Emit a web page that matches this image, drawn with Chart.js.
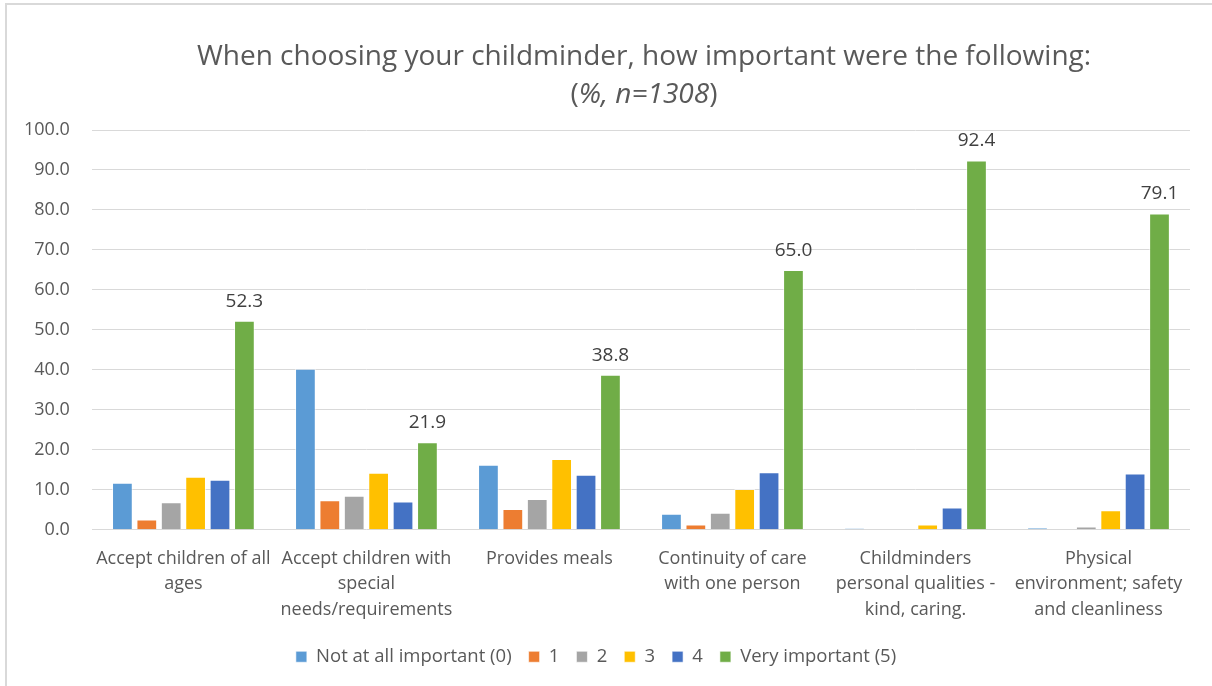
<!DOCTYPE html>
<html>
<head>
<meta charset="utf-8">
<script src="https://cdn.jsdelivr.net/npm/chart.js@4.4.1/dist/chart.umd.min.js"></script>
<style>
  html, body { margin: 0; padding: 0; background: #ffffff; overflow: hidden; }
  #wrap { position: relative; width: 1212px; height: 686px; }
  #frame { position: absolute; left: 5px; top: 3px; width: 1300px; height: 800px;
           border: 2px solid #d9d9d9; box-sizing: border-box; pointer-events: none; }
  canvas { position: absolute; left: 0; top: 0; }
</style>
</head>
<body>
<div id="wrap">
  <canvas id="chart" width="1212" height="686"></canvas>
  <div id="frame"></div>
</div>
<script>
// Survey items (x-axis categories), split into display lines
const categories = [
  ['Accept children of all', 'ages'],
  ['Accept children with', 'special', 'needs/requirements'],
  ['Provides meals'],
  ['Continuity of care', 'with one person'],
  ['Childminders', 'personal qualities -', 'kind, caring.'],
  ['Physical', 'environment; safety', 'and cleanliness']
];

// Rating scale series (percent of respondents)
const seriesNames = ['Not at all important (0)', '1', '2', '3', '4', 'Very important (5)'];
const notImportant0 = [11.8, 40.3, 16.3, 4.0, 0.4, 0.5];
const rating1       = [2.6, 7.4, 5.2, 1.3, 0.0, 0.0];
const rating2       = [6.9, 8.5, 7.7, 4.3, 0.0, 0.8];
const rating3       = [13.3, 14.3, 17.7, 10.2, 1.3, 4.9];
const rating4       = [12.5, 7.1, 13.8, 14.4, 5.6, 14.1];
const veryImportant5 = [52.3, 21.9, 38.8, 65.0, 92.4, 79.1];

const yTicks = [0, 10, 20, 30, 40, 50, 60, 70, 80, 90, 100];

const colors = ['#5B9BD5', '#ED7D31', '#A5A5A5', '#FFC000', '#4472C4', '#70AD47'];
const seriesValues = [notImportant0, rating1, rating2, rating3, rating4, veryImportant5];

const FONT = '"Open Sans", sans-serif';
const TEXT = '#595959';

// Two-line heading; second line mixes upright brackets with italic text
const headingPlugin = {
  id: 'heading',
  afterDraw(chart) {
    const ctx = chart.ctx;
    const cx = 644;
    ctx.save();
    ctx.fillStyle = TEXT;
    ctx.textBaseline = 'alphabetic';
    ctx.textAlign = 'center';
    ctx.font = '28px ' + FONT;
    ctx.fillText('When choosing your childminder, how important were the following:', cx, 65);

    const parts = [
      { t: '(', f: '28px ' + FONT },
      { t: '%, n=1308', f: 'italic 28px ' + FONT },
      { t: ')', f: '28px ' + FONT }
    ];
    let total = 0;
    parts.forEach(p => { ctx.font = p.f; p.w = ctx.measureText(p.t).width; total += p.w; });
    let x = cx - total / 2;
    ctx.textAlign = 'left';
    parts.forEach(p => { ctx.font = p.f; ctx.fillText(p.t, x, 103); x += p.w; });
    ctx.restore();
  }
};

// Value labels above the "Very important (5)" bars
const valueLabelPlugin = {
  id: 'valueLabels',
  afterDatasetsDraw(chart) {
    const ctx = chart.ctx;
    const idx = 5;
    const meta = chart.getDatasetMeta(idx);
    ctx.save();
    ctx.fillStyle = '#404040';
    ctx.font = '19px ' + FONT;
    ctx.textAlign = 'center';
    ctx.textBaseline = 'bottom';
    meta.data.forEach((bar, i) => {
      const v = chart.data.datasets[idx].data[i];
      ctx.fillText(v.toFixed(1), bar.x, bar.y - 10);
    });
    ctx.restore();
  }
};

new Chart(document.getElementById('chart'), {
  type: 'bar',
  data: {
    labels: categories,
    datasets: seriesNames.map((name, i) => ({
      label: name,
      data: seriesValues[i],
      backgroundColor: colors[i],
      borderColor: 'rgba(255,255,255,0.6)',
      borderWidth: 1,
      categoryPercentage: 0.80,
      barPercentage: 0.85
    }))
  },
  options: {
    responsive: false,
    animation: false,
    devicePixelRatio: 1,
    layout: { padding: { top: 130, right: 22, left: 2, bottom: 10 } },
    plugins: {
      title: { display: false },
      tooltip: { enabled: false },
      legend: {
        position: 'bottom',
        labels: {
          color: TEXT,
          font: { family: FONT, size: 18.5 },
          boxWidth: 11,
          boxHeight: 11,
          padding: 17
        }
      }
    },
    scales: {
      x: {
        grid: { display: false },
        border: { display: false },
        ticks: {
          color: TEXT,
          font: { family: FONT, size: 18, lineHeight: 1.42 },
          maxRotation: 0,
          autoSkip: false,
          padding: 8
        }
      },
      y: {
        min: 0,
        max: 100,
        afterBuildTicks(axis) { axis.ticks = yTicks.map(v => ({ value: v })); },
        grid: { color: '#d9d9d9', lineWidth: 1, drawTicks: false },
        border: { display: false },
        ticks: {
          color: TEXT,
          font: { family: FONT, size: 18 },
          padding: 22,
          callback: v => Number(v).toFixed(1)
        }
      }
    }
  },
  plugins: [headingPlugin, valueLabelPlugin]
});
</script>
</body>
</html>
